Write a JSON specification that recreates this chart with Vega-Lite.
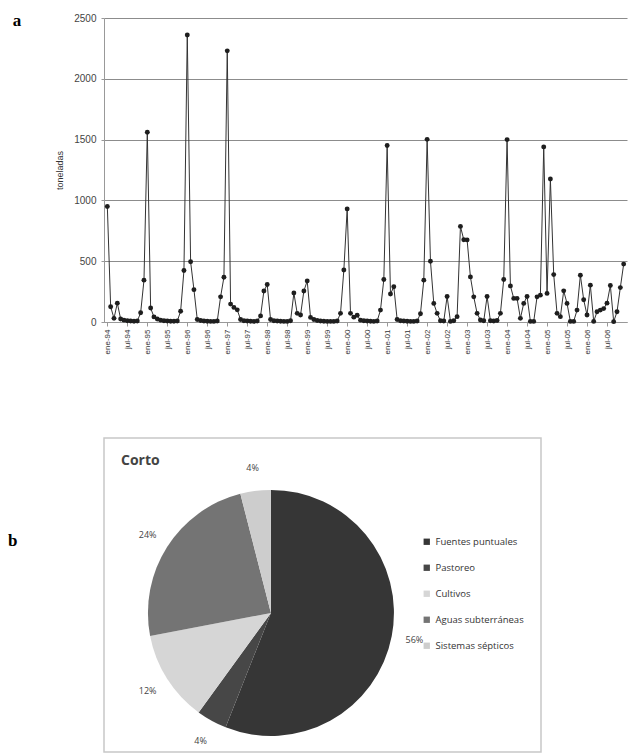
{
  "$schema": "https://vega.github.io/schema/vega-lite/v6.json",
  "background": "white",
  "padding": {"left": 8, "top": 12, "right": 5, "bottom": 2},
  "config": {"font": "Liberation Sans", "view": {"stroke": null}},
  "spacing": 83,
  "vconcat": [
    {
      "title": {"text": "a", "orient": "left", "anchor": "end", "angle": 0, "font": "Liberation Serif", "fontSize": 17, "fontWeight": "bold", "color": "#000", "offset": 26},
      "width": 523,
      "height": 304,
      "data": {"values": [
        {"mes": "ene-94", "t": 950}, {"mes": "feb-94", "t": 125}, {"mes": "mar-94", "t": 30}, {"mes": "abr-94", "t": 155}, {"mes": "may-94", "t": 25}, {"mes": "jun-94", "t": 15}, {"mes": "jul-94", "t": 10}, {"mes": "ago-94", "t": 8}, {"mes": "sep-94", "t": 6}, {"mes": "oct-94", "t": 8}, {"mes": "nov-94", "t": 76}, {"mes": "dic-94", "t": 344},
        {"mes": "ene-95", "t": 1560}, {"mes": "feb-95", "t": 115}, {"mes": "mar-95", "t": 42}, {"mes": "abr-95", "t": 25}, {"mes": "may-95", "t": 15}, {"mes": "jun-95", "t": 10}, {"mes": "jul-95", "t": 8}, {"mes": "ago-95", "t": 6}, {"mes": "sep-95", "t": 6}, {"mes": "oct-95", "t": 8}, {"mes": "nov-95", "t": 88}, {"mes": "dic-95", "t": 423},
        {"mes": "ene-96", "t": 2360}, {"mes": "feb-96", "t": 495}, {"mes": "mar-96", "t": 266}, {"mes": "abr-96", "t": 20}, {"mes": "may-96", "t": 12}, {"mes": "jun-96", "t": 8}, {"mes": "jul-96", "t": 6}, {"mes": "ago-96", "t": 5}, {"mes": "sep-96", "t": 5}, {"mes": "oct-96", "t": 8}, {"mes": "nov-96", "t": 207}, {"mes": "dic-96", "t": 368},
        {"mes": "ene-97", "t": 2230}, {"mes": "feb-97", "t": 147}, {"mes": "mar-97", "t": 120}, {"mes": "abr-97", "t": 100}, {"mes": "may-97", "t": 20}, {"mes": "jun-97", "t": 10}, {"mes": "jul-97", "t": 8}, {"mes": "ago-97", "t": 6}, {"mes": "sep-97", "t": 5}, {"mes": "oct-97", "t": 8}, {"mes": "nov-97", "t": 50}, {"mes": "dic-97", "t": 255},
        {"mes": "ene-98", "t": 308}, {"mes": "feb-98", "t": 20}, {"mes": "mar-98", "t": 10}, {"mes": "abr-98", "t": 8}, {"mes": "may-98", "t": 6}, {"mes": "jun-98", "t": 5}, {"mes": "jul-98", "t": 5}, {"mes": "ago-98", "t": 10}, {"mes": "sep-98", "t": 238}, {"mes": "oct-98", "t": 71}, {"mes": "nov-98", "t": 57}, {"mes": "dic-98", "t": 255},
        {"mes": "ene-99", "t": 338}, {"mes": "feb-99", "t": 38}, {"mes": "mar-99", "t": 20}, {"mes": "abr-99", "t": 12}, {"mes": "may-99", "t": 8}, {"mes": "jun-99", "t": 6}, {"mes": "jul-99", "t": 5}, {"mes": "ago-99", "t": 5}, {"mes": "sep-99", "t": 5}, {"mes": "oct-99", "t": 8}, {"mes": "nov-99", "t": 71}, {"mes": "dic-99", "t": 428},
        {"mes": "ene-00", "t": 930}, {"mes": "feb-00", "t": 71}, {"mes": "mar-00", "t": 40}, {"mes": "abr-00", "t": 55}, {"mes": "may-00", "t": 15}, {"mes": "jun-00", "t": 10}, {"mes": "jul-00", "t": 8}, {"mes": "ago-00", "t": 6}, {"mes": "sep-00", "t": 5}, {"mes": "oct-00", "t": 8}, {"mes": "nov-00", "t": 98}, {"mes": "dic-00", "t": 350},
        {"mes": "ene-01", "t": 1452}, {"mes": "feb-01", "t": 230}, {"mes": "mar-01", "t": 290}, {"mes": "abr-01", "t": 20}, {"mes": "may-01", "t": 10}, {"mes": "jun-01", "t": 8}, {"mes": "jul-01", "t": 6}, {"mes": "ago-01", "t": 5}, {"mes": "sep-01", "t": 5}, {"mes": "oct-01", "t": 8}, {"mes": "nov-01", "t": 68}, {"mes": "dic-01", "t": 344},
        {"mes": "ene-02", "t": 1502}, {"mes": "feb-02", "t": 500}, {"mes": "mar-02", "t": 153}, {"mes": "abr-02", "t": 71}, {"mes": "may-02", "t": 10}, {"mes": "jun-02", "t": 8}, {"mes": "jul-02", "t": 210}, {"mes": "ago-02", "t": 5}, {"mes": "sep-02", "t": 10}, {"mes": "oct-02", "t": 44}, {"mes": "nov-02", "t": 786}, {"mes": "dic-02", "t": 677},
        {"mes": "ene-03", "t": 675}, {"mes": "feb-03", "t": 371}, {"mes": "mar-03", "t": 207}, {"mes": "abr-03", "t": 71}, {"mes": "may-03", "t": 16}, {"mes": "jun-03", "t": 10}, {"mes": "jul-03", "t": 210}, {"mes": "ago-03", "t": 10}, {"mes": "sep-03", "t": 8}, {"mes": "oct-03", "t": 12}, {"mes": "nov-03", "t": 71}, {"mes": "dic-03", "t": 350},
        {"mes": "ene-04", "t": 1500}, {"mes": "feb-04", "t": 297}, {"mes": "mar-04", "t": 194}, {"mes": "abr-04", "t": 194}, {"mes": "may-04", "t": 30}, {"mes": "jun-04", "t": 153}, {"mes": "jul-04", "t": 210}, {"mes": "ago-04", "t": 5}, {"mes": "sep-04", "t": 5}, {"mes": "oct-04", "t": 207}, {"mes": "nov-04", "t": 221}, {"mes": "dic-04", "t": 1440},
        {"mes": "ene-05", "t": 235}, {"mes": "feb-05", "t": 1176}, {"mes": "mar-05", "t": 390}, {"mes": "abr-05", "t": 71}, {"mes": "may-05", "t": 44}, {"mes": "jun-05", "t": 256}, {"mes": "jul-05", "t": 153}, {"mes": "ago-05", "t": 5}, {"mes": "sep-05", "t": 5}, {"mes": "oct-05", "t": 98}, {"mes": "nov-05", "t": 385}, {"mes": "dic-05", "t": 183},
        {"mes": "ene-06", "t": 57}, {"mes": "feb-06", "t": 303}, {"mes": "mar-06", "t": 5}, {"mes": "abr-06", "t": 84}, {"mes": "may-06", "t": 98}, {"mes": "jun-06", "t": 110}, {"mes": "jul-06", "t": 155}, {"mes": "ago-06", "t": 300}, {"mes": "sep-06", "t": 3}, {"mes": "oct-06", "t": 84}, {"mes": "nov-06", "t": 283}, {"mes": "dic-06", "t": 476}
      ]},
      "encoding": {
        "x": {
          "field": "mes", "type": "ordinal", "sort": null,
          "scale": {"type": "point", "padding": 1},
          "axis": {
            "title": null,
            "values": ["ene-94", "jul-94", "ene-95", "jul-95", "ene-96", "jul-96", "ene-97", "jul-97", "ene-98", "jul-98", "ene-99", "jul-99", "ene-00", "jul-00", "ene-01", "jul-01", "ene-02", "jul-02", "ene-03", "jul-03", "ene-04", "jul-04", "ene-05", "jul-05", "ene-06", "jul-06"],
            "labelAngle": -90, "labelFontSize": 8, "labelColor": "#333", "labelPadding": 3,
            "tickSize": 4, "tickColor": "#999", "domainColor": "#999", "grid": false
          }
        },
        "y": {
          "field": "t", "type": "quantitative",
          "scale": {"domain": [0, 2500]},
          "axis": {
            "title": "toneladas", "titleFontSize": 9, "titleFontWeight": "normal", "titleColor": "#333", "titlePadding": 9,
            "values": [0, 500, 1000, 1500, 2000, 2500], "format": "d",
            "labelFontSize": 10, "labelColor": "#444", "labelPadding": 5,
            "tickSize": 3, "tickColor": "#999", "domainColor": "#999",
            "grid": true, "gridColor": "#8c8c8c", "gridWidth": 1.2
          }
        }
      },
      "layer": [
        {"mark": {"type": "line", "color": "#333", "strokeWidth": 1}},
        {"mark": {"type": "point", "filled": true, "color": "#1e1e1e", "size": 24, "opacity": 1}}
      ]
    },
    {
      "title": {"text": "b", "orient": "left", "anchor": "middle", "angle": 0, "font": "Liberation Serif", "fontSize": 17, "fontWeight": "bold", "color": "#000", "offset": 81, "dy": -62},
      "vconcat": [
        {
          "width": 437,
          "height": 314,
          "view": {"stroke": "#c8c8c8", "strokeWidth": 1.5},
          "title": {"text": "Corto", "orient": "top", "anchor": "start", "offset": -30, "dx": 17, "font": "Open Sans", "fontSize": 14, "fontWeight": "bold", "color": "#444"},
          "data": {"values": [
            {"fuente": "Fuentes puntuales", "proporcion": 0.56, "orden": 1},
            {"fuente": "Pastoreo", "proporcion": 0.04, "orden": 2},
            {"fuente": "Cultivos", "proporcion": 0.12, "orden": 3},
            {"fuente": "Aguas subterráneas", "proporcion": 0.24, "orden": 4},
            {"fuente": "Sistemas sépticos", "proporcion": 0.04, "orden": 5}
          ]},
          "encoding": {
            "theta": {"field": "proporcion", "type": "quantitative", "stack": true},
            "order": {"field": "orden", "type": "quantitative"},
            "x": {"datum": 0.382, "type": "quantitative", "scale": {"domain": [0, 1]}, "axis": null},
            "y": {"datum": 0.443, "type": "quantitative", "scale": {"domain": [0, 1]}, "axis": null}
          },
          "layer": [
            {
              "mark": {"type": "arc", "outerRadius": 123},
              "encoding": {
                "color": {
                  "field": "fuente", "type": "nominal", "sort": null,
                  "scale": {
                    "domain": ["Fuentes puntuales", "Pastoreo", "Cultivos", "Aguas subterráneas", "Sistemas sépticos"],
                    "range": ["#363636", "#474747", "#d6d6d6", "#747474", "#cdcdcd"]
                  },
                  "legend": {
                    "title": null, "orient": "none", "legendX": 318, "legendY": 519,
                    "symbolType": "square", "symbolSize": 40, "symbolStrokeWidth": 0,
                    "labelFont": "Open Sans", "labelFontSize": 9.5, "labelColor": "#333",
                    "rowPadding": 15
                  }
                }
              }
            },
            {
              "mark": {"type": "text", "radius": 146, "font": "Open Sans", "fontSize": 9, "fill": "#444"},
              "encoding": {
                "text": {"field": "proporcion", "type": "quantitative", "format": ".0%"}
              }
            }
          ]
        }
      ]
    }
  ]
}
